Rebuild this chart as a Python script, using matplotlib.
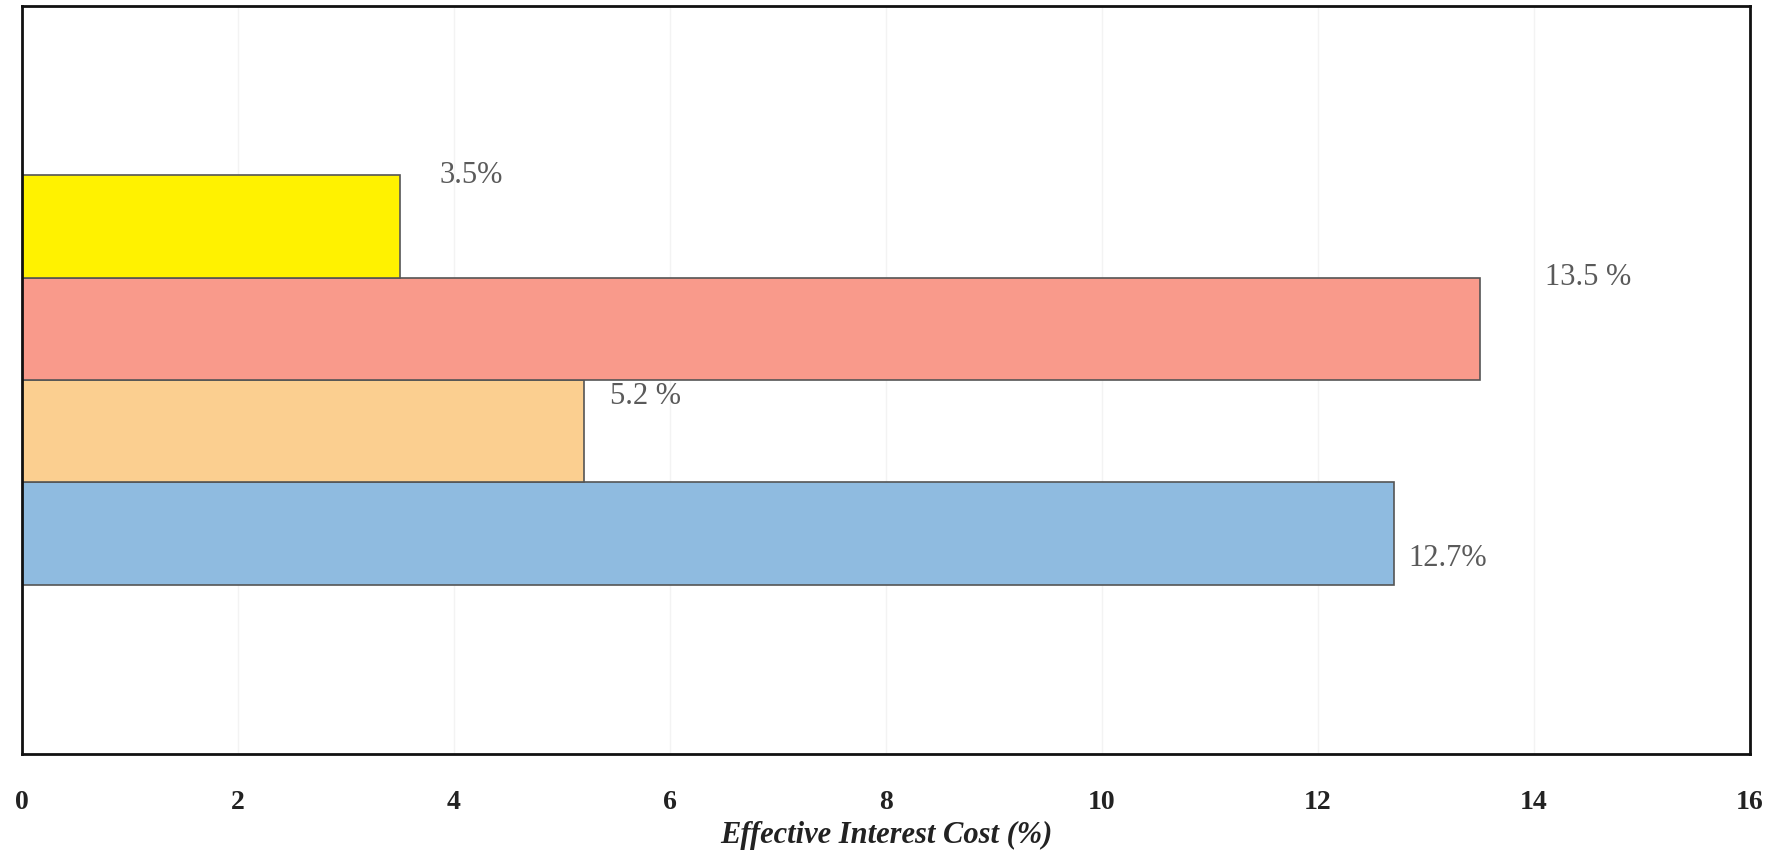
import matplotlib
matplotlib.use('Agg')
import matplotlib.pyplot as plt

# bars from bottom to top
values = [12.7, 5.2, 13.5, 3.5]
bar_labels = ['12.7%', '5.2 %', '13.5 %', '3.5%']
colors = ['#8fbbe0', '#fbcf90', '#f99a8b', '#fff200']
xticks = [0, 2, 4, 6, 8, 10, 12, 14, 16]

# label placement (x offset from bar end, y offset from bar centre), data units
label_dx = [0.14, 0.24, 0.6, 0.37]
label_dy = [-0.245, 0.34, 0.5, 0.5]

plt.rcParams['font.family'] = ['Liberation Serif', 'DejaVu Serif']

fig = plt.figure(figsize=(17.77, 8.5), dpi=100)
ax = fig.add_axes([22 / 1777, 96 / 850, (1750 - 22) / 1777, (754 - 6) / 850])

pos = list(range(len(values)))
ax.barh(pos, values, height=1.0, color=colors, edgecolor='#555555', linewidth=1.2, zorder=2)

for p, v, t, dx, dy in zip(pos, values, bar_labels, label_dx, label_dy):
    ax.text(v + dx, p + dy, t, va='center', ha='left', fontsize=22, color='#5a5a5a')

ax.set_xlim(0, 16)
ax.set_ylim(-2.15, 5.15)
ax.set_yticks([])
ax.set_xticks(xticks)
ax.set_xticklabels([str(x) for x in xticks], fontsize=20, fontweight='bold', color='#222222')
ax.tick_params(axis='x', length=0, pad=26)
ax.grid(axis='x', color='#f3f3f3', linewidth=1, zorder=0)

for s in ax.spines.values():
    s.set_linewidth(2)
    s.set_color('#111111')

ax.set_xlabel('Effective Interest Cost (%)', fontsize=22, fontstyle='italic',
              fontweight='bold', color='#222222', labelpad=4)

fig.savefig('out.png', dpi=100)
